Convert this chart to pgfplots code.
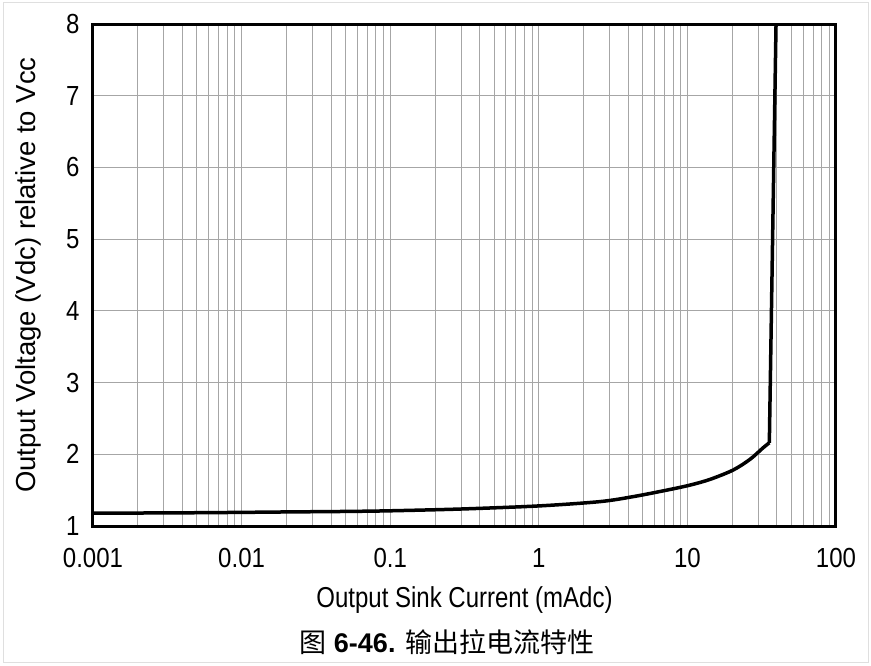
\documentclass[border=0pt]{standalone}
\usepackage{pgfplots}
\pgfplotsset{compat=1.18}
\usepackage{fontspec}
\setmainfont{Liberation Sans}
\newfontfamily\cjk{Noto Sans CJK SC}

\begin{document}
\begin{tikzpicture}
  % page frame, 871 x 665 px with 1pt = 1px
  \useasboundingbox (-93pt,-139pt) rectangle (778pt,526pt);
  \draw[gray!25, line width=0.8pt] (-90pt,-136pt) rectangle (775pt,524pt);

  \begin{axis}[
      at={(0pt,0pt)}, anchor=south west,
      scale only axis,
      width=743pt, height=502pt,
      xmode=log,
      xmin=0.001, xmax=100,
      ymin=1, ymax=8,
      ytick={1,2,...,8},
      xtick={0.001,0.01,0.1,1,10,100},
      xticklabels={0.001,0.01,0.1,1,10,100},
      grid=both,
      major grid style={gray!70, line width=0.8pt},
      minor grid style={gray!70, line width=0.8pt},
      tick style={draw=none},
      axis line style={black, line width=3pt},
      /pgf/number format/assume math mode=true,
      ticklabel style={font=\fontsize{24}{28}\selectfont, yscale=1.15},
      xticklabel style={yshift=-16pt},
      yticklabel style={xshift=-10pt},
      xlabel={Output Sink Current (mAdc)},
      ylabel={Output Voltage (Vdc) relative to Vcc},
      xlabel style={font=\fontsize{24}{28}\selectfont, at={(axis description cs:0.5,0)}, anchor=center, yshift=-74pt, yscale=1.2},
      ylabel style={font=\fontsize{27.5}{32}\selectfont, at={(axis description cs:0,0.5)}, anchor=center, rotate=0, yshift=65pt},
    ]
    \addplot[black, line width=3.5pt, smooth, tension=0.5] coordinates {
      (0.001,1.18) (0.002,1.181) (0.005,1.185) (0.01,1.19) (0.02,1.196)
      (0.05,1.203) (0.1,1.212) (0.3,1.237) (1,1.28) (2.58,1.34)
      (4.33,1.41) (7.26,1.50) (10.4,1.57) (14.2,1.65) (20.3,1.78)
      (26.4,1.93) (32.3,2.09) (35.6,2.16)
    };
    \addplot[black, line width=3.5pt] coordinates {
      (35.6,2.16) (39.5,8)
    };
  \end{axis}

  \node[anchor=center, font=\fontsize{27}{32}\selectfont] at (354pt,-116pt)
    {{\cjk 图} \textbf{6-46.} {\cjk 输出拉电流特性}};
\end{tikzpicture}
\end{document}
